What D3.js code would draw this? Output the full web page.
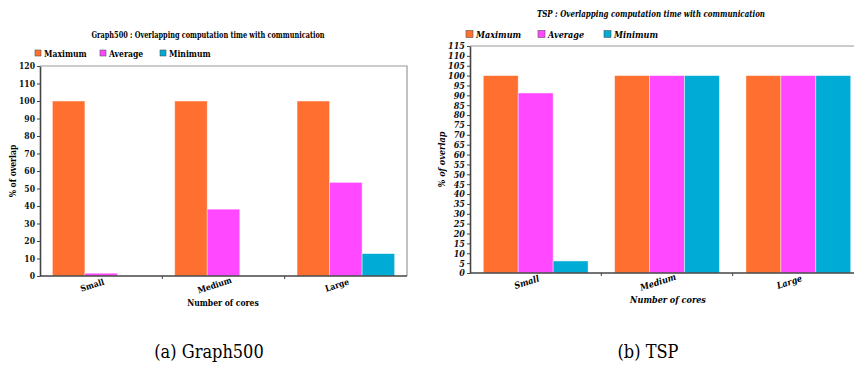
<!DOCTYPE html>
<html>
<head>
<meta charset="utf-8">
<script src="https://cdn.jsdelivr.net/npm/d3@7"></script>
<style>
  body { margin: 0; background: #fff; }
  svg { display: block; }
  svg text { font-stretch: condensed; }
</style>
</head>
<body>
<div id="chart"></div>
<script>
//
// DATA
//
const categories = ['Small', 'Medium', 'Large']
const seriesNames = ['Maximum', 'Average', 'Minimum']
const seriesColors = ['#ff7030', '#ff48ff', '#00abd5']

// Graph500 (left panel)
const graphMax = [100, 100, 100]
const graphAvg = [1.6, 38.2, 53.5]
const graphMin = [0, 0, 12.8]
const graphTicks = [0, 10, 20, 30, 40, 50, 60, 70, 80, 90, 100, 110, 120]

// TSP (right panel)
const tspMax = [100, 100, 100]
const tspAvg = [91.2, 100, 100]
const tspMin = [6.1, 100, 100]
const tspTicks = [0, 5, 10, 15, 20, 25, 30, 35, 40, 45, 50, 55, 60, 65, 70, 75, 80, 85, 90, 95, 100, 105, 110, 115]

//
// GLOBALS
//
const width = 854
const height = 367
const serif = "'DejaVu Serif Condensed', 'Liberation Serif', 'DejaVu Serif', serif"

const svg = d3.select('#chart').append('svg')
    .attr('width', width)
    .attr('height', height)
    .attr('font-family', serif)

// fit a text to a measured width from the reference
const fit = (sel, w) => { if (w) sel.attr('textLength', w).attr('lengthAdjust', 'spacingAndGlyphs') }

// draws one panel
const drawPanel = (cfg) => {
    const g = svg.append('g')
    const x = d3.scaleBand().domain(categories).range([cfg.left, cfg.right]).paddingInner(0)
    const xs = d3.scaleBand().domain(seriesNames).range([0, x.bandwidth()]).paddingOuter(0.38)
    const y = d3.scaleLinear().domain([0, cfg.yMax]).range([cfg.bottom, cfg.top])
    const italic = cfg.italic ? 'italic' : 'normal'

    // frame (top + right)
    g.append('path')
        .attr('d', `M${cfg.left},${cfg.top}H${cfg.right}V${cfg.bottom}`)
        .attr('fill', 'none').attr('stroke', '#9a9a9a').attr('stroke-width', 1.2)

    // bars
    const values = [cfg.max, cfg.avg, cfg.min]
    seriesNames.forEach((s, si) => {
        g.append('g').selectAll('rect')
            .data(categories.map((c, ci) => ({ c, v: values[si][ci] })))
            .join('rect')
            .attr('x', d => x(d.c) + xs(s))
            .attr('width', xs.bandwidth())
            .attr('y', d => y(d.v))
            .attr('height', d => cfg.bottom - y(d.v))
            .attr('fill', seriesColors[si])
            .attr('stroke', 'rgba(255,255,255,0.55)')
            .attr('stroke-width', 0.8)
    })

    // y axis
    const yAxis = g.append('g')
        .attr('transform', `translate(${cfg.left},0)`)
        .call(d3.axisLeft(y).tickValues(cfg.ticks).tickSize(3).tickPadding(2).tickSizeOuter(0))
    yAxis.attr('font-family', serif)
    yAxis.select('.domain').attr('stroke', '#444').attr('stroke-width', 1.6)
    yAxis.selectAll('.tick line').attr('stroke', '#444')
    yAxis.selectAll('text')
        .style('font-weight', 'bold').style('font-style', italic)
        .style('font-size', cfg.tickFont + 'px').attr('fill', '#111')

    // x axis: ticks at band boundaries
    g.append('line')
        .attr('x1', cfg.left).attr('x2', cfg.right)
        .attr('y1', cfg.bottom).attr('y2', cfg.bottom)
        .attr('stroke', '#444').attr('stroke-width', 1.6)
    g.selectAll('.xtick')
        .data(categories.slice(1))
        .join('line')
        .attr('x1', d => x(d)).attr('x2', d => x(d))
        .attr('y1', cfg.bottom).attr('y2', cfg.bottom + 3)
        .attr('stroke', '#444')
    g.selectAll('.xlabel')
        .data(categories)
        .join('text')
        .attr('transform', d => `translate(${x(d) + x.bandwidth() / 2 - 8},${cfg.bottom + 12}) rotate(-18)`)
        .attr('text-anchor', 'middle')
        .style('font-weight', 'bold').style('font-style', italic)
        .style('font-size', cfg.labelFont + 'px')
        .text(d => d)

    // axis titles
    g.append('text')
        .attr('x', cfg.xTitleX)
        .attr('y', cfg.bottom + 30)
        .attr('text-anchor', 'middle')
        .style('font-weight', 'bold').style('font-style', italic)
        .style('font-size', cfg.labelFont + 'px')
        .text('Number of cores')
    g.append('text')
        .attr('transform', `translate(${cfg.yTitleX},${(cfg.top + cfg.bottom) / 2}) rotate(-90)`)
        .attr('text-anchor', 'middle')
        .style('font-weight', 'bold').style('font-style', italic)
        .style('font-size', cfg.labelFont + 'px')
        .text('% of overlap')

    // chart title
    g.append('text')
        .attr('x', cfg.titleX).attr('y', cfg.titleY)
        .attr('text-anchor', 'middle')
        .style('font-weight', 'bold').style('font-style', italic)
        .style('font-size', cfg.titleFont + 'px')
        .text(cfg.title)
        .call(fit, cfg.titleW)

    // legend
    const leg = g.append('g').selectAll('g')
        .data(seriesNames)
        .join('g')
        .attr('transform', (d, i) => `translate(${cfg.legendX[i]},${cfg.legendY})`)
    leg.append('rect')
        .attr('x', 0).attr('y', -cfg.sq / 2).attr('width', cfg.sq).attr('height', cfg.sq)
        .attr('fill', (d, i) => seriesColors[i])
        .attr('stroke', '#555').attr('stroke-width', 0.6)
    leg.append('text')
        .attr('x', cfg.sq + 3).attr('y', 3.5)
        .style('font-weight', 'bold').style('font-style', italic)
        .style('font-size', cfg.legendFont + 'px')
        .text(d => d)

    // caption
    svg.append('text')
        .attr('x', cfg.captionX).attr('y', 358)
        .attr('text-anchor', 'middle')
        .style('font-size', '18px')
        .text(cfg.caption)
}

drawPanel({
    left: 40, right: 407, top: 66, bottom: 276, yMax: 120,
    ticks: graphTicks, max: graphMax, avg: graphAvg, min: graphMin,
    italic: false, tickFont: 8.5, labelFont: 8.5, titleFont: 9, legendFont: 8.5,
    yTitleX: 16, xTitleX: 223,
    title: 'Graph500 : Overlapping computation time with communication',
    titleX: 208, titleY: 38, titleW: 233,
    legendX: [35, 100, 160], legendY: 53, sq: 6,
    caption: '(a)  Graph500', captionX: 209
})

drawPanel({
    left: 470, right: 864, top: 46, bottom: 273, yMax: 115,
    ticks: tspTicks, max: tspMax, avg: tspAvg, min: tspMin,
    italic: true, tickFont: 9, labelFont: 9, titleFont: 9, legendFont: 9,
    yTitleX: 445, xTitleX: 668,
    title: 'TSP : Overlapping computation time with communication',
    titleX: 651, titleY: 17, titleW: 228,
    legendX: [466, 538, 604], legendY: 34, sq: 7,
    caption: '(b)  TSP', captionX: 648
})
</script>
</body>
</html>
